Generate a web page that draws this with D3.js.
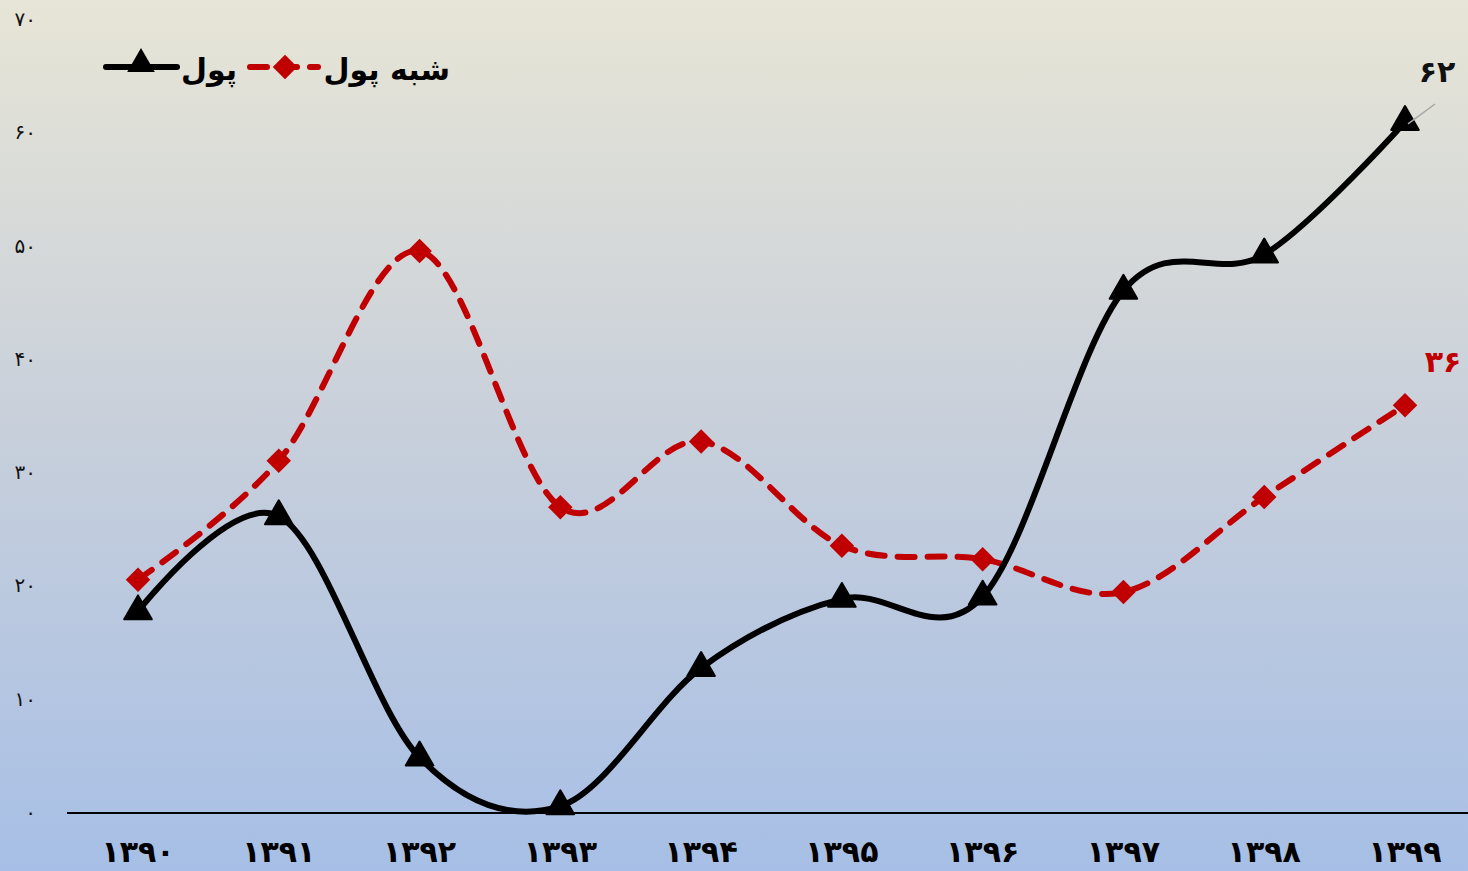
<!DOCTYPE html>
<html><head><meta charset="utf-8">
<script src="https://cdn.jsdelivr.net/npm/d3@7"></script>
<style>body{margin:0;background:#fff}svg{display:block}</style>
</head><body>
<script>
const years = ["1390","1391","1392","1393","1394","1395","1396","1397","1398","1399"];
const pool = [17.8, 26.2, 4.9, 0.6, 12.8, 18.9, 19.1, 46.1, 49.3, 61.0];
const shebhPool = [20.6, 31.1, 49.6, 27.0, 32.8, 23.6, 22.4, 19.5, 27.9, 36.0];
const yTicks = [0,10,20,30,40,50,60,70];
const seriesNames = ["پول", "شبه پول"];
const lastLabels = ["62", "36"];

const W = 1468, H = 871;
const fa = s => String(s).replace(/\d/g, d => "۰۱۲۳۴۵۶۷۸۹"[d]);
const FONT = "'DejaVu Sans', sans-serif";

const svg = d3.select("body").append("svg").attr("width", W).attr("height", H);
const defs = svg.append("defs");
const g = defs.append("linearGradient").attr("id","bg").attr("x1",0).attr("y1",0).attr("x2",0).attr("y2",1);
g.append("stop").attr("offset","0%").attr("stop-color","#e7e5d6");
g.append("stop").attr("offset","50%").attr("stop-color","#c7cfdb");
g.append("stop").attr("offset","100%").attr("stop-color","#a7bfe6");
svg.append("rect").attr("width",W).attr("height",H).attr("fill","url(#bg)");

const x = d3.scalePoint().domain(years).range([138, 1405]);
const y = d3.scaleLinear().domain([0,70]).range([813, 20]);

// y tick labels
svg.append("g").selectAll("text").data(yTicks).join("text")
  .attr("x", 36).attr("y", d => y(d)).attr("dy","0.3em")
  .attr("text-anchor","end").attr("font-family",FONT).attr("font-size",20)
  .attr("fill","#111").text(d => fa(d));

// x axis line
svg.append("line").attr("x1",67).attr("x2",W).attr("y1",y(0)).attr("y2",y(0))
  .attr("stroke","#000").attr("stroke-width",2);

// x labels
svg.append("g").selectAll("text").data(years).join("text")
  .attr("x", d => x(d)).attr("y", 862).attr("text-anchor","middle")
  .attr("font-family",FONT).attr("font-size",30).attr("font-weight","bold")
  .attr("fill","#000").text(d => fa(d));

const curve = d3.curveCardinal.tension(0);
const line = d3.line().x((d,i) => x(years[i])).y(d => y(d)).curve(curve);

// red dashed series
svg.append("path").attr("d", line(shebhPool)).attr("fill","none")
  .attr("stroke","#c00000").attr("stroke-width",6).attr("stroke-linecap","round")
  .attr("stroke-dasharray","17,13");
// black series
svg.append("path").attr("d", line(pool)).attr("fill","none")
  .attr("stroke","#000").attr("stroke-width",6).attr("stroke-linecap","round");

const diamond = d3.symbol().type(d3.symbolSquare).size(300);
const tri = d3.symbol().type(d3.symbolTriangle).size(330);

svg.append("g").selectAll("path").data(shebhPool).join("path")
  .attr("d", diamond()).attr("fill","#c00000")
  .attr("transform",(d,i)=>`translate(${x(years[i])},${y(d)}) rotate(45)`);
svg.append("g").selectAll("path").data(pool).join("path")
  .attr("d", tri()).attr("fill","#000").attr("stroke","#000").attr("stroke-width",2).attr("stroke-linejoin","round")
  .attr("transform",(d,i)=>`translate(${x(years[i])},${y(d)})`);

// data labels
svg.append("line").attr("x1",x(years[9])+3).attr("y1",y(pool[9])+2).attr("x2",1435).attr("y2",104)
  .attr("stroke","#a6a6a6").attr("stroke-width",1.5);
svg.append("text").attr("x",1437).attr("y",82).attr("text-anchor","middle")
  .attr("font-family",FONT).attr("font-size",30).attr("font-weight","bold").attr("fill","#111")
  .text(fa(lastLabels[0]));
svg.append("text").attr("x",1443).attr("y",372).attr("text-anchor","middle")
  .attr("font-family",FONT).attr("font-size",30).attr("font-weight","bold").attr("fill","#c00000")
  .text(fa(lastLabels[1]));

// legend
const leg = svg.append("g");
leg.append("line").attr("x1",106).attr("x2",177).attr("y1",67).attr("y2",67)
  .attr("stroke","#000").attr("stroke-width",6).attr("stroke-linecap","round");
leg.append("path").attr("d",tri()).attr("fill","#000").attr("transform","translate(141,64)");
leg.append("text").attr("x",237).attr("y",80).attr("text-anchor","end")
  .attr("font-family",FONT).attr("font-size",30).attr("font-weight","bold").attr("fill","#000")
  .text(seriesNames[0]);
leg.append("line").attr("x1",250).attr("x2",318).attr("y1",67).attr("y2",67)
  .attr("stroke","#c00000").attr("stroke-width",6).attr("stroke-linecap","round").attr("stroke-dasharray","17,13");
leg.append("path").attr("d",diamond()).attr("fill","#c00000").attr("transform","translate(285,67) rotate(45)");
leg.append("text").attr("x",450).attr("y",80).attr("text-anchor","end")
  .attr("font-family",FONT).attr("font-size",30).attr("font-weight","bold").attr("fill","#000")
  .text(seriesNames[1]);
</script>
</body></html>
